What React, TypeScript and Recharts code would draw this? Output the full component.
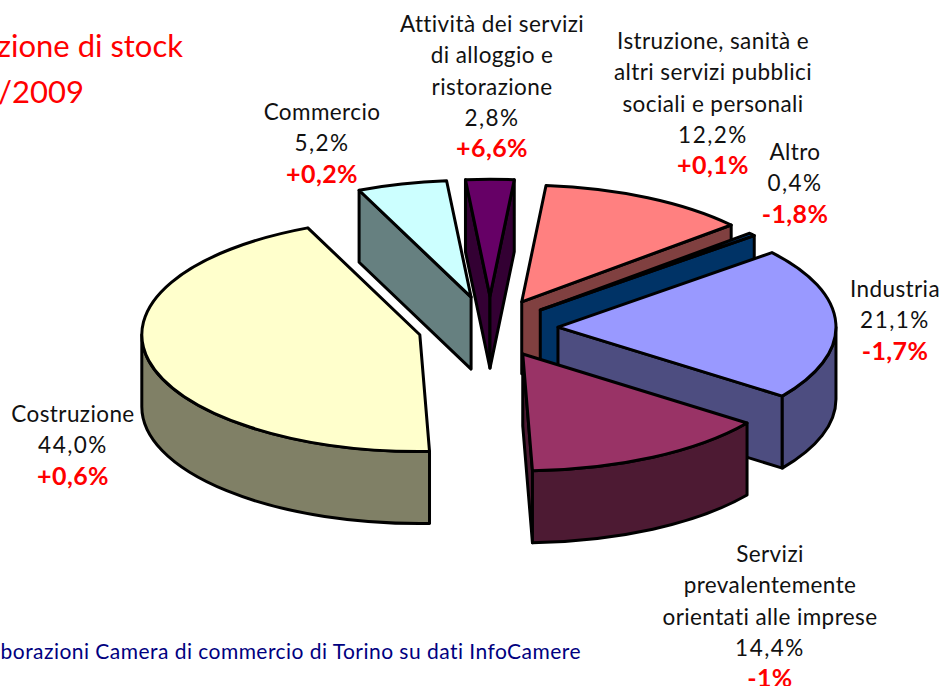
import { PieChart, Pie } from "recharts";

const categories = [
  "Costruzione",
  "Commercio",
  "Attività dei servizi di alloggio e ristorazione",
  "Istruzione, sanità e altri servizi pubblici sociali e personali",
  "Altro",
  "Industria",
  "Servizi prevalentemente orientati alle imprese",
];
const shares = [44.0, 5.2, 2.8, 12.2, 0.4, 21.1, 14.4];
const shareLabels = ["44,0%", "5,2%", "2,8%", "12,2%", "0,4%", "21,1%", "14,4%"];
const changeLabels = ["+0,6%", "+0,2%", "+6,6%", "+0,1%", "-1,8%", "-1,7%", "-1%"];
const labelLines = [
  ["Costruzione"],
  ["Commercio"],
  ["Attività dei servizi", "di alloggio e", "ristorazione"],
  ["Istruzione, sanità e", "altri servizi pubblici", "sociali e personali"],
  ["Altro"],
  ["Industria"],
  ["Servizi", "prevalentemente", "orientati alle imprese"],
];

// styling of the slices
const topColors = ["#FFFFCC", "#CCFFFF", "#660066", "#FF8080", "#0066CC", "#9999FF", "#993366"];
const wallColors = ["#808066", "#668080", "#330033", "#804040", "#003366", "#4D4D80", "#4D1A33"];
const explode = [72, 76, 76, 70, 66, 68, 70];
// label anchor: centre x, baseline of first line
const labelAnchors = [
  [73, 422],
  [322, 120],
  [492, 32],
  [713, 49],
  [795, 160],
  [895, 297],
  [770, 562],
];

const TILT = 0.42;
const DEPTH = 72;
const LINE = 31.3;
const FONT = "Lato, sans-serif";

const chartData = categories.map((name, i) => ({
  name,
  value: shares[i],
  fill: topColors[i],
  wall: wallColors[i],
  explode: explode[i],
}));

// 3D look: the flat sector from Recharts gets projected on an ellipse
function Slice3D(props: any) {
  const { cx, cy, outerRadius, startAngle, endAngle, fill, wall, explode: ex } = props;
  const rx = outerRadius;
  const ry = outerRadius * TILT;
  // compass angles, clockwise from the top
  let c0 = 90 - startAngle;
  let c1 = 90 - endAngle;
  if (c0 >= 360) {
    c0 -= 360;
    c1 -= 360;
  }
  const rad = (d: number) => (d * Math.PI) / 180;
  const mid = rad((c0 + c1) / 2);
  const ax = cx + Math.sin(mid) * ex;
  const ay = cy - Math.cos(mid) * ex * TILT;
  const pt = (c: number) => [ax + Math.sin(rad(c)) * rx, ay - Math.cos(rad(c)) * ry];
  const [sx, sy] = pt(c0);
  const [ex2, ey2] = pt(c1);
  const large = c1 - c0 > 180 ? 1 : 0;
  const stroke = { stroke: "#000", strokeWidth: 3, strokeLinejoin: "round" as const };

  const face = (x: number, y: number) =>
    `M${ax},${ay} L${x},${y} L${x},${y + DEPTH} L${ax},${ay + DEPTH} Z`;

  const showStart = Math.sin(rad(c0)) < 0;
  const showEnd = Math.sin(rad(c1)) > 0;

  // outer wall only on the half that faces the viewer
  const w0 = Math.max(c0, 90);
  const w1 = Math.min(c1, 270);
  let wallPath = "";
  if (w1 > w0) {
    const [ax0, ay0] = pt(w0);
    const [ax1, ay1] = pt(w1);
    wallPath = `M${ax0},${ay0} A${rx},${ry} 0 0 1 ${ax1},${ay1} L${ax1},${ay1 + DEPTH} A${rx},${ry} 0 0 0 ${ax0},${ay0 + DEPTH} Z`;
  }

  return (
    <g>
      {showStart && <path d={face(sx, sy)} fill={wall} {...stroke} />}
      {showEnd && <path d={face(ex2, ey2)} fill={wall} {...stroke} />}
      {wallPath && <path d={wallPath} fill={wall} {...stroke} />}
      <path
        d={`M${ax},${ay} L${sx},${sy} A${rx},${ry} 0 ${large} 1 ${ex2},${ey2} Z`}
        fill={fill}
        {...stroke}
      />
    </g>
  );
}

function SliceLabel(props: any) {
  const i = props.index;
  const [x, y] = labelAnchors[i];
  const lines = labelLines[i];
  return (
    <text textAnchor="middle" fontFamily={FONT} fontSize={22.5} letterSpacing={0.4}>
      {lines.map((l, k) => (
        <tspan key={k} x={x} y={y + k * LINE} fill="#111">
          {l}
        </tspan>
      ))}
      <tspan x={x} y={y + lines.length * LINE} fill="#111" letterSpacing={1.5}>
        {shareLabels[i]}
      </tspan>
      <tspan x={x} y={y + (lines.length + 1) * LINE} fill="#FF0000" fontWeight={700} fontSize={25}>
        {changeLabels[i]}
      </tspan>
    </text>
  );
}

export default function App() {
  return (
    <div style={{ position: "absolute", left: 0, top: 0, width: 942, height: 686, overflow: "hidden", background: "#fff" }}>
      <PieChart width={942} height={686} margin={{ top: 0, right: 0, bottom: 0, left: 0 }}>
        <text x={183} y={57} textAnchor="end" fontFamily={FONT} fontSize={31} fill="#FF0000">
          zione di stock
        </text>
        <text x={84} y={103} textAnchor="end" fontFamily={FONT} fontSize={31} fill="#FF0000">
          /2009
        </text>
        <text x={581} y={659} textAnchor="end" fontFamily={FONT} fontSize={21} letterSpacing={0.46} fill="#000080">
          borazioni Camera di commercio di Torino su dati InfoCamere
        </text>
        <Pie
          data={chartData}
          dataKey="value"
          nameKey="name"
          cx={490}
          cy={328}
          outerRadius={278}
          startAngle={-88}
          endAngle={-448}
          isAnimationActive={false}
          shape={Slice3D}
          label={SliceLabel}
          labelLine={false}
        />
      </PieChart>
    </div>
  );
}
